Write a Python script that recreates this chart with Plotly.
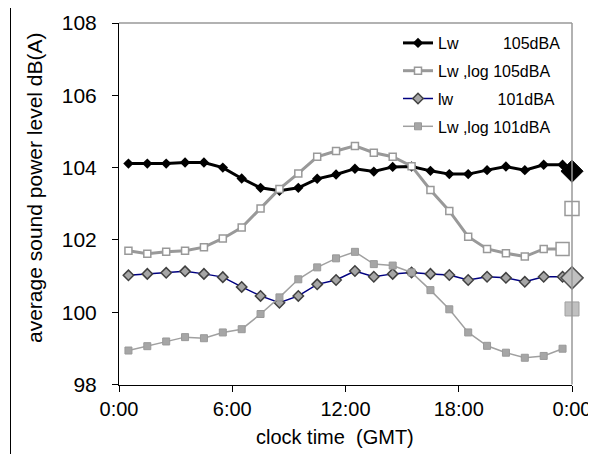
import plotly.graph_objects as go

hours = [h + 0.5 for h in range(24)]

lw_105 = [104.11, 104.11, 104.11, 104.14, 104.14, 104.00, 103.70, 103.44, 103.36, 103.44, 103.69, 103.81,
          103.97, 103.89, 104.02, 104.03, 103.91, 103.82, 103.82, 103.93, 104.03, 103.93, 104.08, 104.08]
lwlog_105 = [101.70, 101.62, 101.67, 101.70, 101.80, 102.04, 102.34, 102.87, 103.41, 103.84, 104.30, 104.46,
             104.60, 104.41, 104.30, 104.04, 103.38, 102.80, 102.09, 101.75, 101.63, 101.54, 101.75, 101.75]
lw_101 = [101.02, 101.06, 101.09, 101.13, 101.06, 100.97, 100.70, 100.45, 100.26, 100.45, 100.77, 100.89,
          101.14, 100.98, 101.06, 101.10, 101.06, 101.03, 100.89, 100.98, 100.95, 100.84, 100.98, 100.98]
lwlog_101 = [98.94, 99.06, 99.19, 99.31, 99.28, 99.44, 99.53, 99.95, 100.41, 100.91, 101.24, 101.49,
             101.67, 101.33, 101.29, 101.10, 100.61, 100.08, 99.44, 99.07, 98.88, 98.74, 98.79, 98.99]

avg_x = 24
avg_values = [103.9, 102.87, 100.95, 100.09]

names = ["Lw" + "\u00a0" * 10 + "105dBA",
         "Lw ,log 105dBA",
         "lw" + "\u00a0" * 10 + "101dBA",
         "Lw ,log 101dBA"]

tick_vals = [0, 6, 12, 18, 24]
tick_text = ["0:00", "6:00", "12:00", "18:00", "0:00"]

FONT = "Liberation Sans, Arial, sans-serif"
W, H = 596, 454
OFF = 8  # page body margin offset


def px(x):
    return (x - OFF) / W


def py(y):
    return 1 - (y - OFF) / H


fig = go.Figure()

# outer chart frame (decorative), on a full-figure helper axis in page pixels
fig.add_trace(go.Scatter(
    x=[10.5, 10.5, 700], y=[600, 5.5, 5.5], xaxis="x2", yaxis="y2", mode="lines",
    line=dict(color="black", width=1), showlegend=False, hoverinfo="skip", cliponaxis=False))

fig.add_trace(go.Scatter(
    x=hours, y=lw_105, name=names[0], mode="lines+markers", legendgroup="a",
    line=dict(color="black", width=3),
    marker=dict(symbol="diamond", size=8, color="black"),
    cliponaxis=False))
fig.add_trace(go.Scatter(
    x=hours, y=lwlog_105, name=names[1], mode="lines+markers", legendgroup="b",
    line=dict(color="#999999", width=3),
    marker=dict(symbol="square", size=7, color="white", line=dict(color="#999999", width=1.5)),
    cliponaxis=False))
fig.add_trace(go.Scatter(
    x=hours, y=lw_101, name=names[2], mode="lines+markers", legendgroup="c",
    line=dict(color="#000080", width=1.5),
    marker=dict(symbol="diamond", size=8, color="#a6a6a6", line=dict(color="#404040", width=1.5)),
    cliponaxis=False))
fig.add_trace(go.Scatter(
    x=hours, y=lwlog_101, name=names[3], mode="lines+markers", legendgroup="d",
    line=dict(color="#a0a0a0", width=1.5),
    marker=dict(symbol="square", size=7, color="#a6a6a6", line=dict(color="#999999", width=1)),
    cliponaxis=False))

# enlarged last point of Lw,log 105dBA
fig.add_trace(go.Scatter(
    x=[hours[-1]], y=[lwlog_105[-1]], mode="markers", showlegend=False,
    marker=dict(symbol="square", size=13, color="white", line=dict(color="#999999", width=1.5)),
    cliponaxis=False))

# averages at 24:00
avg_styles = [
    dict(symbol="diamond", size=17, color="black", line=dict(color="black", width=1)),
    dict(symbol="square", size=14, color="white", line=dict(color="#999999", width=1.5)),
    dict(symbol="diamond", size=17, color="#c0c0c0", line=dict(color="#505050", width=1.5)),
    dict(symbol="square", size=14, color="#c0c0c0", line=dict(color="#a0a0a0", width=1)),
]
for v, st in zip(avg_values, avg_styles):
    fig.add_trace(go.Scatter(x=[avg_x], y=[v], mode="markers", showlegend=False,
                             marker=st, cliponaxis=False))

fig.update_layout(
    width=W, height=H,
    margin=dict(l=0, r=0, t=0, b=0, pad=0),
    paper_bgcolor="white", plot_bgcolor="rgba(0,0,0,0)",
    font=dict(family=FONT, size=20, color="black"),
    showlegend=True,
    legend=dict(x=px(398), y=py(26), xanchor="left", yanchor="top",
                bgcolor="rgba(0,0,0,0)", borderwidth=0,
                font=dict(size=16, family=FONT),
                tracegroupgap=4, traceorder="grouped", itemwidth=30),
    xaxis=dict(domain=[px(119), px(572)], range=[0, 24], tickvals=tick_vals, ticktext=tick_text,
               showgrid=False, zeroline=False, showline=True, linecolor="black", linewidth=1,
               ticks="outside", ticklen=6, tickcolor="black", automargin=False,
               tickfont=dict(size=20), ticklabelstandoff=0),
    yaxis=dict(domain=[py(384.5), py(23)], range=[98, 108], tickvals=[98, 100, 102, 104, 106, 108],
               showgrid=False, zeroline=False, showline=True, linecolor="black", linewidth=1,
               ticks="outside", ticklen=6, tickcolor="black", automargin=False,
               tickfont=dict(size=21), ticklabelstandoff=11),
    xaxis2=dict(domain=[0, 1], range=[OFF, OFF + W], visible=False, anchor="y2",
                fixedrange=True, showgrid=False, zeroline=False),
    yaxis2=dict(domain=[0, 1], range=[OFF + H, OFF], visible=False, anchor="x2",
                fixedrange=True, showgrid=False, zeroline=False),
    shapes=[
        dict(type="line", xref="paper", yref="paper", x0=px(119), x1=px(572), y0=py(23), y1=py(23),
             line=dict(color="#999999", width=1.5)),
        dict(type="line", xref="paper", yref="paper", x0=px(572), x1=px(572), y0=py(384.5), y1=py(23),
             line=dict(color="#999999", width=1.5)),
    ],
    annotations=[
        dict(text="average sound power level dB(A)", xref="paper", yref="paper",
             x=px(34), y=py(188), textangle=-90, showarrow=False,
             font=dict(size=21), xanchor="center", yanchor="middle"),
        dict(text="clock time\u00a0 (GMT)", xref="paper", yref="paper",
             x=px(335), y=py(437), showarrow=False,
             font=dict(size=20), xanchor="center", yanchor="middle"),
    ],
)

fig.write_html("out.html")
